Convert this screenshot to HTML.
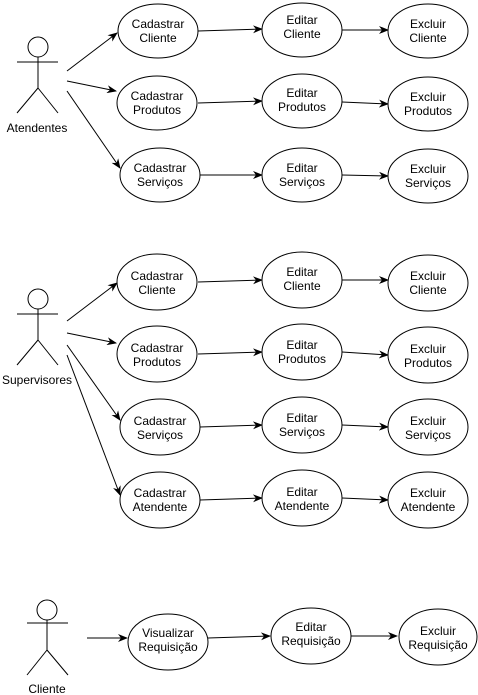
<!DOCTYPE html>
<html><head><meta charset="utf-8"><style>
html,body{margin:0;padding:0;background:#fff;}
svg{display:block;}
text{font-family:"Liberation Sans",Arial,sans-serif;font-size:12px;fill:#000;text-anchor:middle;}
</style></head><body>
<svg width="478" height="695" viewBox="0 0 478 695" xmlns="http://www.w3.org/2000/svg">
<defs><marker id="a" markerWidth="10" markerHeight="8" refX="9" refY="4" orient="auto" markerUnits="userSpaceOnUse"><path d="M0,0 L10,4 L0,8 L3,4 Z" fill="#000"/></marker></defs>
<g stroke="#000" stroke-width="1" fill="none">
<!-- actors -->
<circle cx="38" cy="47" r="10" fill="#fff"/><path d="M38,57V88M17,62H58M38,88L17,113M38,88L58,113"/>
<circle cx="38" cy="299" r="10" fill="#fff"/><path d="M38,309V340M17,314H58M38,340L17,365M38,340L58,365"/>
<circle cx="47" cy="610" r="10" fill="#fff"/><path d="M47,620V650M27,623H68M47,650L27,675M47,650L68,675"/>
<!-- section1 arrows -->
<g marker-end="url(#a)">
<path d="M67,71L117,33"/><path d="M67,81L116,91"/><path d="M67,91L120,168"/>
<path d="M198,31L262,29"/><path d="M342,30L388,30"/>
<path d="M198,103L262,101"/><path d="M342,102L388,104"/>
<path d="M200,175L262,175"/><path d="M342,175L388,176"/>
<path d="M67,321L117,283"/><path d="M67,333L116,343"/><path d="M67,345L120,420"/><path d="M67,355L120,495"/>
<path d="M198,282L262,280"/><path d="M342,280L388,280"/>
<path d="M198,354L262,352"/><path d="M342,352L388,355"/>
<path d="M200,427L262,425"/><path d="M342,425L388,427"/>
<path d="M200,500L262,498"/><path d="M342,498L388,500"/>
<path d="M87,638L127,638"/><path d="M208,638L270,636"/><path d="M351,636L397,636"/>
</g>
<g fill="#fff">
<ellipse cx="158" cy="31" rx="40" ry="27"/><ellipse cx="302" cy="30" rx="40" ry="27"/><ellipse cx="428" cy="31" rx="40" ry="27"/>
<ellipse cx="157" cy="103" rx="40" ry="27"/><ellipse cx="302" cy="101" rx="40" ry="27"/><ellipse cx="428" cy="104" rx="40" ry="27"/>
<ellipse cx="160" cy="175" rx="40" ry="27"/><ellipse cx="302" cy="175" rx="40" ry="27"/><ellipse cx="428" cy="176" rx="40" ry="27"/>
<ellipse cx="157" cy="282" rx="40" ry="28"/><ellipse cx="302" cy="280" rx="40" ry="28"/><ellipse cx="428" cy="283" rx="40" ry="28"/>
<ellipse cx="157" cy="354" rx="40" ry="28"/><ellipse cx="302" cy="352" rx="40" ry="28"/><ellipse cx="428" cy="355" rx="40" ry="28"/>
<ellipse cx="160" cy="427" rx="40" ry="28"/><ellipse cx="302" cy="425" rx="40" ry="28"/><ellipse cx="428" cy="427" rx="40" ry="28"/>
<ellipse cx="160" cy="500" rx="40" ry="28"/><ellipse cx="302" cy="498" rx="40" ry="28"/><ellipse cx="428" cy="500" rx="40" ry="28"/>
<ellipse cx="168" cy="642" rx="40" ry="28"/><ellipse cx="311" cy="636" rx="40" ry="28"/><ellipse cx="438" cy="637" rx="39" ry="28"/>
</g>
</g>
<text x="37" y="132">Atendentes</text>
<text x="37" y="384">Supervisores</text>
<text x="47" y="693">Cliente</text>
<text x="158" y="28">Cadastrar</text><text x="158" y="42">Cliente</text>
<text x="302" y="24">Editar</text><text x="302" y="38">Cliente</text>
<text x="428" y="28">Excluir</text><text x="428" y="42">Cliente</text>
<text x="157" y="100">Cadastrar</text><text x="157" y="114">Produtos</text>
<text x="302" y="97">Editar</text><text x="302" y="111">Produtos</text>
<text x="428" y="101">Excluir</text><text x="428" y="115">Produtos</text>
<text x="160" y="172">Cadastrar</text><text x="160" y="186">Serviços</text>
<text x="302" y="172">Editar</text><text x="302" y="186">Serviços</text>
<text x="428" y="173">Excluir</text><text x="428" y="187">Serviços</text>
<text x="157" y="280">Cadastrar</text><text x="157" y="294">Cliente</text>
<text x="302" y="276">Editar</text><text x="302" y="290">Cliente</text>
<text x="428" y="280">Excluir</text><text x="428" y="294">Cliente</text>
<text x="157" y="352">Cadastrar</text><text x="157" y="366">Produtos</text>
<text x="302" y="349">Editar</text><text x="302" y="363">Produtos</text>
<text x="428" y="353">Excluir</text><text x="428" y="367">Produtos</text>
<text x="160" y="425">Cadastrar</text><text x="160" y="439">Serviços</text>
<text x="302" y="422">Editar</text><text x="302" y="436">Serviços</text>
<text x="428" y="425">Excluir</text><text x="428" y="439">Serviços</text>
<text x="160" y="497">Cadastrar</text><text x="160" y="511">Atendente</text>
<text x="302" y="496">Editar</text><text x="302" y="510">Atendente</text>
<text x="428" y="497">Excluir</text><text x="428" y="511">Atendente</text>
<text x="168" y="637">Visualizar</text><text x="168" y="651">Requisição</text>
<text x="311" y="631">Editar</text><text x="311" y="645">Requisição</text>
<text x="438" y="635">Excluir</text><text x="438" y="649">Requisição</text>
</svg>
</body></html>
